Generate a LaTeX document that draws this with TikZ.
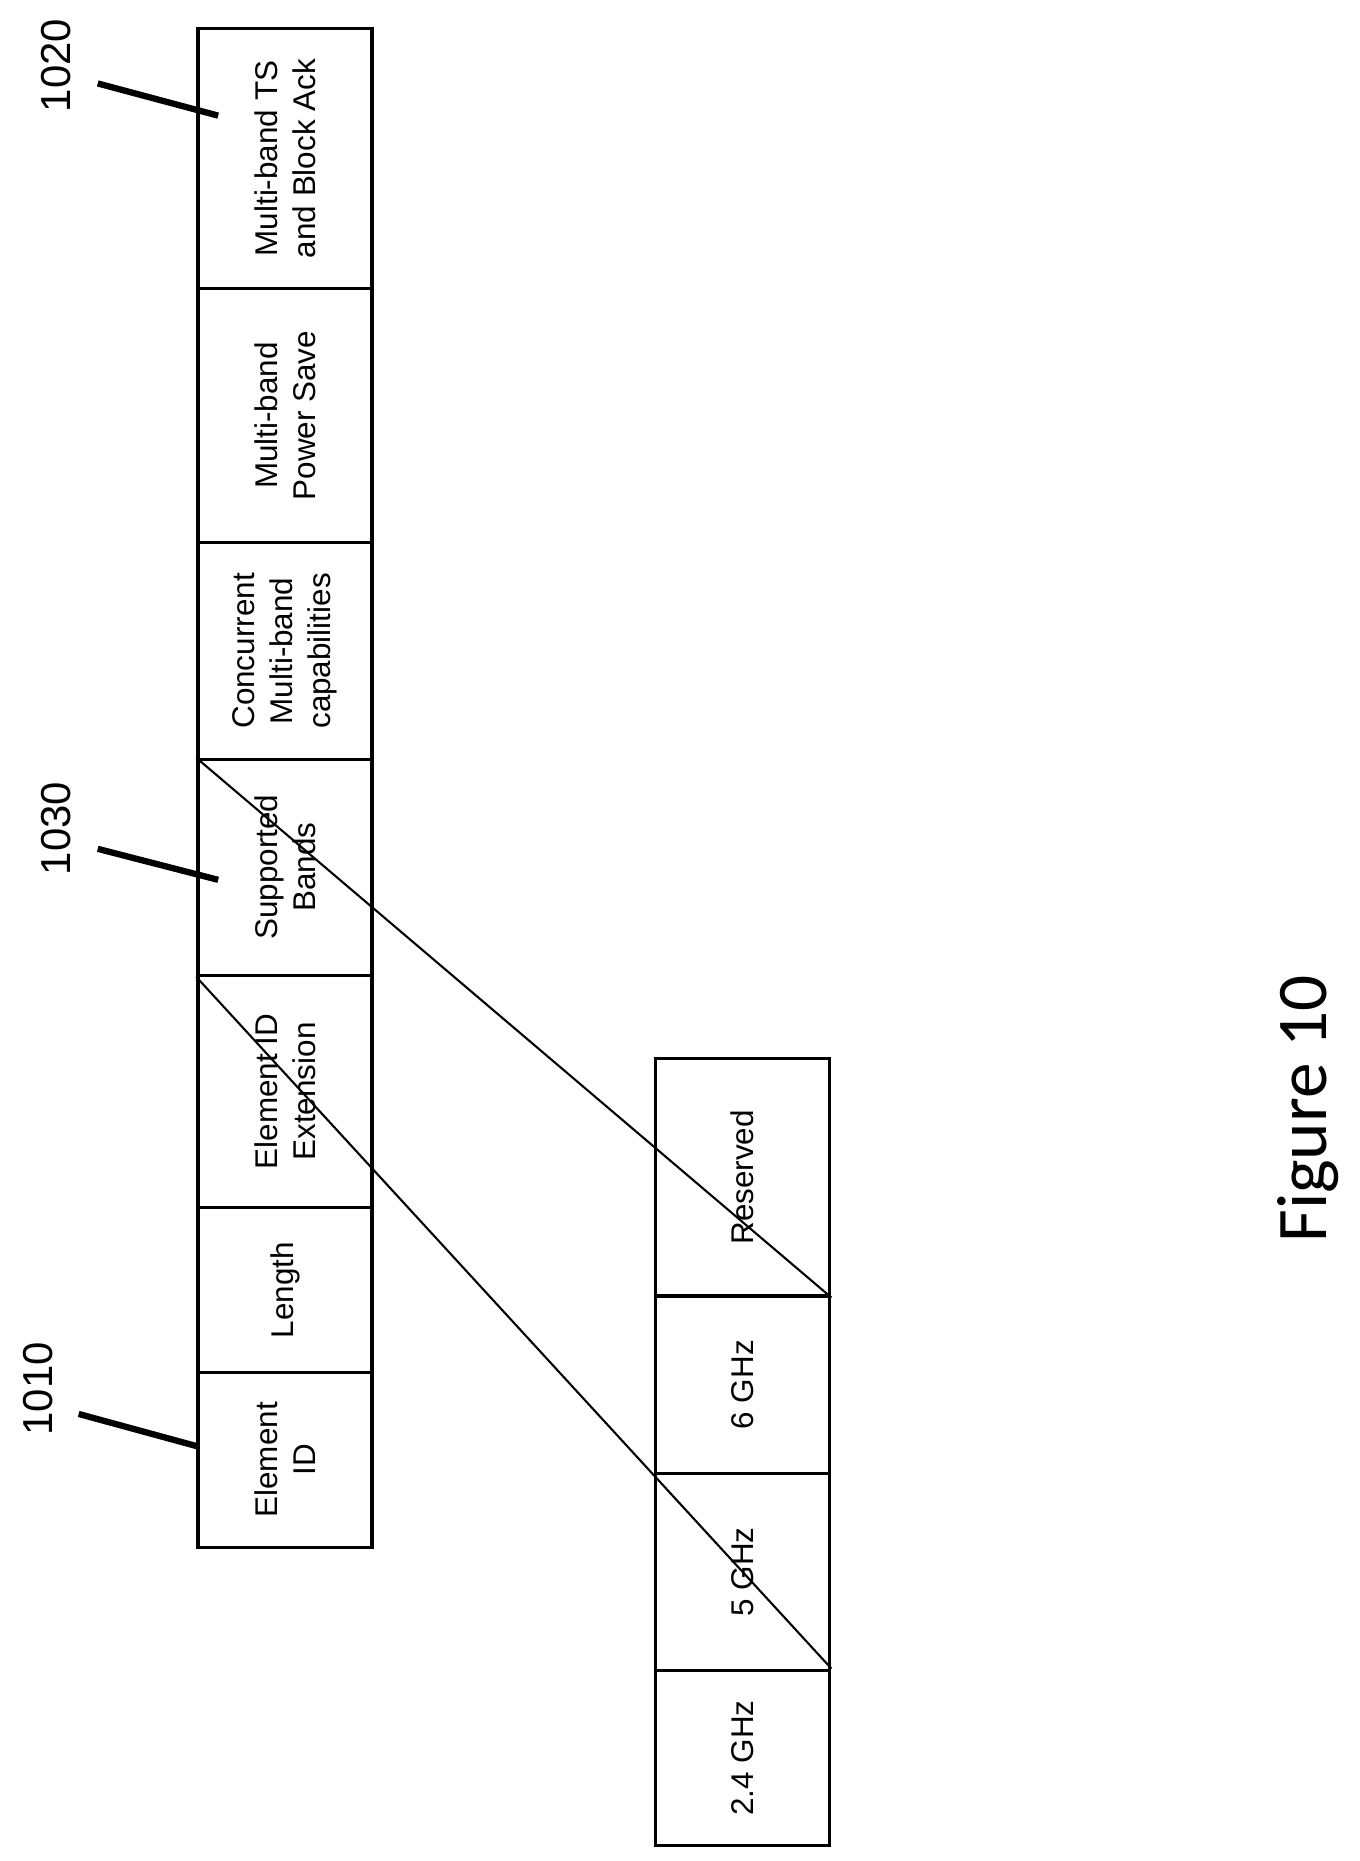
\documentclass[tikz,border=0pt]{standalone}
\usepackage{fontspec}
\setmainfont{Liberation Sans}
\newfontfamily\figfont{Carlito}
\begin{document}
\begin{tikzpicture}[x=0.02cm,y=-0.02cm]
\tikzset{
  cell/.style={draw, line width=1.6pt, rotate=90, minimum height=2.92cm, inner sep=0pt,
    align=center, font=\fontsize{15}{18}\selectfont},
  refnum/.style={rotate=90, font=\fontsize{20}{24}\selectfont},
  leader/.style={line width=3pt}
}
\useasboundingbox (0,0) rectangle (1140,1561);

% Main element
\node[cell, minimum width=4.36cm] (tsack) at (239,133) {Multi-band TS\\and Block Ack};
\node[cell, minimum width=4.26cm] (psave) at (239,348.5) {Multi-band\\Power Save};
\node[cell, minimum width=3.64cm] (concur) at (239,546) {Concurrent\\Multi-band\\capabilities};
\node[cell, minimum width=3.62cm] (bands) at (239,727.5) {Supported\\Bands};
\node[cell, minimum width=3.90cm] (extid) at (239,915.5) {Element ID\\Extension};
\node[cell, minimum width=2.76cm] (length) at (239,1082) {Length};
\node[cell, minimum width=2.94cm] (elemid) at (239,1224.5) {Element\\ID};

% Supported bands field
\node[cell, minimum width=3.98cm] (resv) at (623,987.5) {Reserved};
\node[cell, minimum width=2.98cm] (six) at (623,1161.5) {6 GHz};
\node[cell, minimum width=3.30cm] (five) at (623,1318.5) {5 GHz};
\node[cell, minimum width=2.94cm] (two) at (623,1474.5) {2.4 GHz};

% Zoom lines
\draw[line width=1pt] (bands.north east) -- (resv.south west);
\draw[line width=1pt] (bands.north west) -- (two.south east);

% Reference numerals
\node[refnum] (r1020) at (47,55) {1020};
\coordinate (t1020) at (183,97);
\draw[leader] (82,70) -- (t1020);
\node[refnum] (r1030) at (47,695) {1030};
\coordinate (t1030) at (183,738);
\draw[leader] (82,712) -- (t1030);
\node[refnum] (r1010) at (32,1165) {1010};
\coordinate (t1010) at (165,1213);
\draw[leader] (66,1186) -- (t1010);

\node[rotate=90, font=\figfont\fontsize{34}{40}\selectfont] (fig) at (1097,930) {Figure 10};
\end{tikzpicture}
\end{document}
